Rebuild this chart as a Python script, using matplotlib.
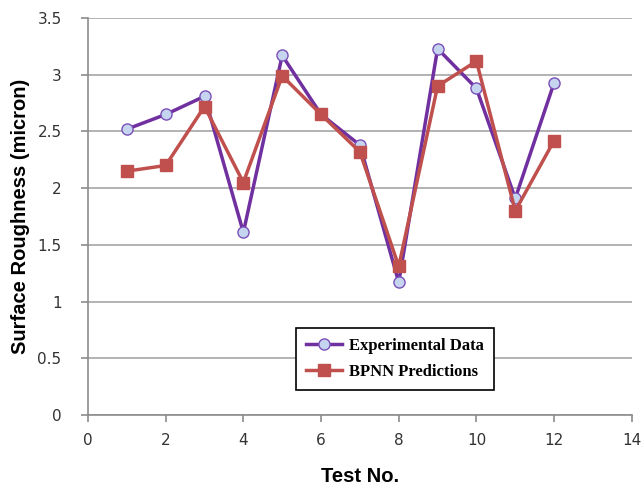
import matplotlib.pyplot as plt

test_no = [1, 2, 3, 4, 5, 6, 7, 8, 9, 10, 11, 12]
experimental = [2.52, 2.65, 2.81, 1.61, 3.17, 2.65, 2.38, 1.17, 3.23, 2.88, 1.91, 2.93]
bpnn = [2.15, 2.20, 2.72, 2.05, 2.99, 2.65, 2.32, 1.31, 2.90, 3.12, 1.80, 2.42]

fig = plt.figure(figsize=(6.44, 4.88), dpi=100)
ax = fig.add_axes([0.1366, 0.1496, 0.8445, 0.8134])

ax.plot(test_no, experimental, color="#7030A0", lw=2.5, marker="o", ms=8,
        mfc="#C5D5F0", mec="#7B4FB8", mew=1, label="Experimental Data", zorder=3)
ax.plot(test_no, bpnn, color="#C0504D", lw=2.5, marker="s", ms=8,
        mfc="#C0504D", mec="#C0504D", label="BPNN Predictions", zorder=4)

ax.set_xlim(0, 14)
ax.set_ylim(0, 3.5)
ax.set_xticks(range(0, 15, 2))
ax.set_yticks([0, 0.5, 1, 1.5, 2, 2.5, 3, 3.5])
ax.set_yticklabels(["0", "0.5", "1", "1.5", "2", "2.5", "3", "3.5"])
ax.grid(axis="y", color="#A6A6A6", lw=1.2)
ax.set_axisbelow(True)
for s in ["top", "right"]:
    ax.spines[s].set_visible(False)
for s in ["left", "bottom"]:
    ax.spines[s].set_color("#8C8C8C")
    ax.spines[s].set_linewidth(1.2)
ax.tick_params(colors="#8C8C8C", labelcolor="#333333", labelsize=11, length=5, width=1.2)
ax.tick_params(axis="y", pad=14)
ax.tick_params(axis="x", pad=8)
for lab in ax.get_xticklabels() + ax.get_yticklabels():
    lab.set_family("DejaVu Sans")

ax.set_xlabel("Test No.", fontsize=14.5, fontweight="bold", family="Liberation Sans",
              labelpad=14)
ax.set_ylabel("Surface Roughness (micron)", fontsize=14.5, fontweight="bold",
              family="Liberation Sans", labelpad=5)

leg = ax.legend(loc="center", bbox_to_anchor=(0.564, 0.141),
                fancybox=False, framealpha=1, edgecolor="black",
                prop={"family": "Liberation Serif", "weight": "bold", "size": 12},
                handlelength=2.2, handletextpad=0.4, borderpad=0.6, labelspacing=0.6)
leg.get_frame().set_linewidth(1.2)

fig.savefig("out.png", dpi=100)
